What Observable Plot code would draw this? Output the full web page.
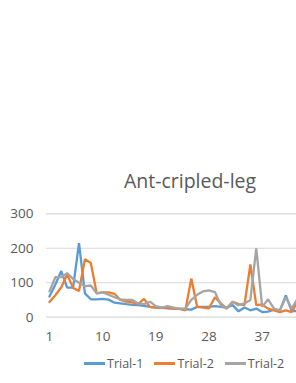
<!DOCTYPE html>
<html>
<head>
<meta charset="utf-8">
<script src="https://cdn.jsdelivr.net/npm/d3@7"></script>
<script src="https://cdn.jsdelivr.net/npm/@observablehq/plot@0.6"></script>
<style>
  html, body { margin: 0; padding: 0; background: #fff; width: 296px; height: 383px; overflow: hidden; }
  #wrap { position: absolute; left: 0; top: 0; width: 380px; height: 383px; font-family: "Open Sans", sans-serif; }
  #title { position: absolute; left: 0; width: 380px; top: 168px; text-align: center; font-size: 19.5px; color: #595959; line-height: 26px; }
  #chart { position: absolute; left: 0; top: 190px; }
  #legend { position: absolute; left: 84px; top: 355px; font-size: 12.5px; color: #595959; display: flex; align-items: center; white-space: nowrap; }
  .sw { display: inline-block; width: 21px; height: 3px; margin-right: 2px; }
  .it { display: inline-flex; align-items: center; margin-right: 11px; }
</style>
</head>
<body>
<div id="wrap">
  <div id="title">Ant-cripled-leg</div>
  <div id="chart"></div>
  <div id="legend"></div>
</div>
<script>
const title = "Ant-cripled-leg";
const seriesNames = ["Trial-1", "Trial-2", "Trial-2"];
const seriesColors = ["#5b9bd5", "#ed7d31", "#a5a5a5"];
const xTicks = [1, 10, 19, 28, 37];
const yTicks = [0, 100, 200, 300];

const trial1 = [60, 95, 134, 86, 86, 215, 69, 52, 52, 53, 51, 42, 40, 38, 36, 35, 33, 30, 28, 27,
                26, 25, 24, 23, 22, 30, 30, 30, 32, 30, 28, 35, 17, 28, 20, 25, 15, 16, 22, 20,
                63, 18, 18];
const trial2 = [44, 64, 87, 124, 85, 76, 168, 157, 69, 72, 72, 68, 50, 45, 43, 38, 53, 30, 28, 28,
                27, 25, 24, 20, 112, 30, 28, 26, 58, 40, 25, 45, 38, 35, 153, 35, 37, 25, 20, 15,
                20, 15, 45];
const trial3 = [75, 116, 116, 128, 111, 100, 90, 92, 69, 72, 65, 58, 52, 50, 50, 40, 38, 45, 32, 28,
                32, 28, 25, 25, 50, 65, 75, 78, 73, 35, 25, 45, 35, 40, 50, 200, 30, 52, 25, 20,
                58, 25, 55];

const series = [trial1, trial2, trial3];
const data = [];
series.forEach((vals, s) => vals.forEach((v, i) => data.push({idx: i + 1, value: v, key: "s" + s})));

const plot = Plot.plot({
  width: 380,
  height: 160,
  marginLeft: 46,
  marginRight: 9,
  marginTop: 23.3,
  marginBottom: 33.3,
  style: { fontFamily: "Open Sans, sans-serif", fontSize: "13px", color: "#595959", background: "transparent" },
  x: { domain: [0.5, 55.5], range: [46, 371], label: null },
  y: { domain: [0, 300], label: null },
  color: { domain: ["s0", "s1", "s2"], range: seriesColors },
  marks: [
    Plot.ruleY(yTicks, { stroke: "#d9d9d9", strokeWidth: 1.2 }),
    Plot.line(data, { x: "idx", y: "value", z: "key", stroke: "key", strokeWidth: 2.3, strokeLinejoin: "miter" }),
    Plot.axisY({ ticks: yTicks, tickSize: 0, tickPadding: 13, fontSize: 13.5, fill: "#595959", label: null }),
    Plot.axisX({ ticks: xTicks, tickSize: 0, tickPadding: 14, fontSize: 13.5, fill: "#595959", label: null, tickFormat: d => String(d) })
  ]
});
document.getElementById("chart").appendChild(plot);

const legend = document.getElementById("legend");
seriesNames.forEach((n, i) => {
  const it = document.createElement("span");
  it.className = "it";
  const sw = document.createElement("span");
  sw.className = "sw";
  sw.style.background = seriesColors[i];
  it.appendChild(sw);
  it.appendChild(document.createTextNode(n));
  legend.appendChild(it);
});
</script>
</body>
</html>
